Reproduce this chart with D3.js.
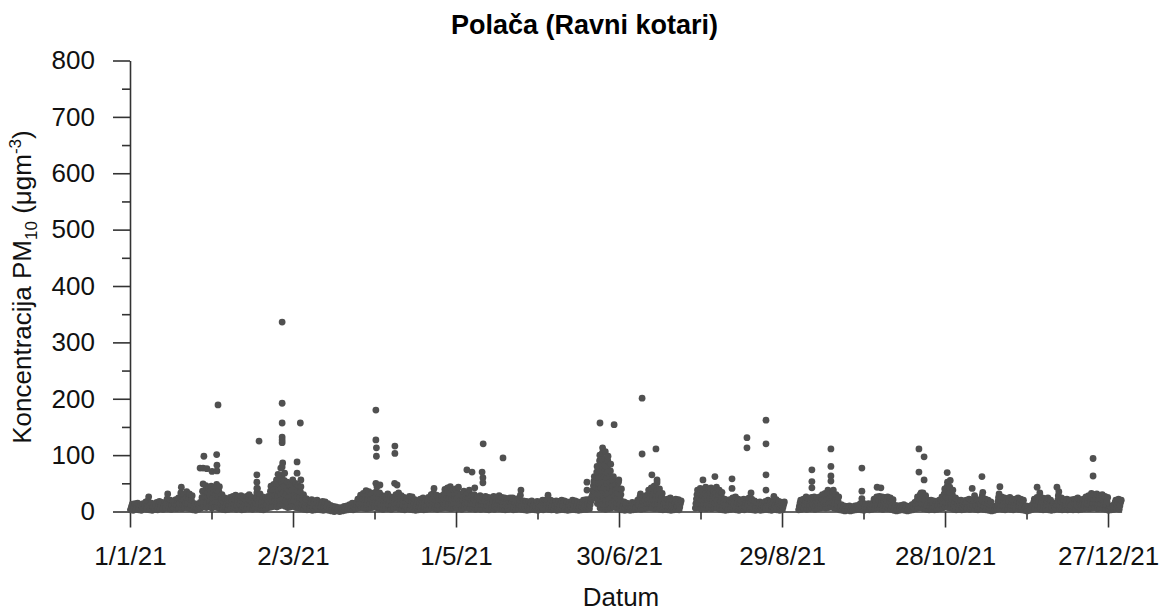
<!DOCTYPE html>
<html><head><meta charset="utf-8">
<script src="https://cdn.jsdelivr.net/npm/d3@7"></script>
<style>body{margin:0;background:#fff}</style>
</head><body>
<svg id="c" width="1167" height="614"></svg>
<script>
const chartTitle = "Polača (Ravni kotari)";
const xTitle = "Datum";
const xTickLabels = ["1/1/21","2/3/21","1/5/21","30/6/21","29/8/21","28/10/21","27/12/21"];
const xMinorLabels = ["31/1/21","1/4/21","31/5/21","30/7/21","28/9/21","27/11/21"];
const xEndLabel = "1/1/22";
const yTicks = [0,100,200,300,400,500,600,700,800];
const yMinorTicks = [50,150,250,350,450,550,650,750];

// PM10 values per day (several readings per day), month by month
const jan = [[3,8,13],[2,9,14],[4,10,15],[3,7,12],[2,8,14],[5,11,17],[4,12,19,26],[3,9,15],[2,8,13],[4,10,16],[3,9,18],[5,11,16],[4,10,15],[6,14,22,31],[5,12,20],[4,11,18],[6,13,21],[5,12,19,24],[6,15,24,33,43],[5,13,22,30],[7,15,24,35],[6,14,23,31],[5,12,20,28],[3,8,14],[2,7,12],[4,10,16],[6,15,25,36,49],[8,17,27,38,46],[7,16,26,35,42],[9,18,28,37,45],[6,15,24,33,40]];
const feb = [[8,17,27,38,48],[7,16,26,36,44],[5,13,22,30],[4,10,17,24],[3,9,15,22],[4,11,18,25],[5,12,20,27],[6,13,21,29],[4,11,19,26],[5,13,21,28],[3,10,17,24],[4,12,20,27],[6,14,22,30],[5,12,19,25],[4,11,18],[6,15,24,33,41],[5,14,23,31],[4,11,19,26],[3,10,17,24],[5,12,20,27],[7,16,26,36,45],[8,18,28,38,48],[9,19,29,39,50,56],[8,18,28,38,48,58],[10,20,30,40,52,64],[12,22,33,44,55,68],[9,19,30,41,52],[7,16,26,36,46]];
const mar = [[8,18,28,38,48,56],[9,19,29,40,50],[7,17,27,37,46],[6,15,25,35,44],[5,13,21,30],[4,10,17,23],[3,9,15,20],[4,10,16,21],[2,8,14,19],[3,9,15,20],[4,10,16],[3,8,14,18],[2,7,13,17],[3,8,14],[2,6,11],[1,5,9],[0,4,8],[1,4,7],[0,3,7],[1,5,9],[2,6,10],[3,7,12],[4,9,15],[3,8,14],[5,11,17,22],[6,13,21,29],[7,15,23,32],[6,14,22,30,37],[5,13,21,29,35],[6,14,22,31],[7,15,24,33]];
const apr = [[8,17,26,35,44],[6,15,24,33],[5,13,21,28],[4,12,20,27],[6,14,22,31],[5,12,20,26],[4,11,18,24],[6,14,22,30],[7,15,24,33],[5,13,21,28],[4,11,18,25],[3,10,17,23],[5,12,20,27],[4,11,19,26],[3,9,15,21],[2,8,14,19],[3,9,15,22],[4,10,17,24],[3,8,14,20],[4,11,18,25],[5,13,21,30],[6,14,23,32,41],[5,13,21,29],[4,11,19,27],[5,12,20,28],[6,14,22,31,39],[7,15,24,33,42],[6,14,23,32,44],[5,13,22,30,38],[6,14,22,31,40]];
const may = [[7,15,24,33,43],[5,13,21,30],[4,12,20,28,36],[6,14,22,30],[7,15,24,32,38],[5,13,21,28],[6,14,22,30,42],[4,12,19,26],[5,13,20,28],[4,11,18,25],[5,12,19,27],[4,11,18,25],[3,10,17,24],[5,12,19,27],[4,11,18,24],[6,13,20,28],[5,12,19,25],[4,11,18,24],[3,10,17,23],[4,11,18,24],[5,12,19,24],[3,9,16,22],[4,10,17,23],[5,12,20,29,38],[4,10,16,19],[3,9,14,18],[2,8,13,17],[3,9,15,19],[4,10,15],[3,8,14,18],[2,7,13,17]];
const jun = [[4,10,16,20],[3,9,15,20],[5,12,20,29],[4,10,16,20],[3,9,14,18],[4,10,15,19],[2,8,14,18],[3,9,15,20],[4,10,16,19],[3,8,13,17],[2,7,12,16],[3,9,15,20],[4,10,16,19],[3,8,13,17],[2,7,12,16],[3,9,15,20],[4,10,16,21],[4,10,16,21],[5,12,18,25],[22,30,38,46,54,62],[25,34,43,52,61,70,80],[14,22,31,40,50,60,70,80,90,100],[6,14,22,32,42,52,62,72,82,92,104,113],[5,13,22,32,42,52,62,72,82,94,106],[4,12,20,30,40,50,60,70,80,90,98],[5,13,22,32,42,52,62,72,84],[6,15,25,35,45,55,62],[8,18,28,38,48],[6,15,24,33,42,52,56],[5,13,21,30,40]];
const jul = [[3,8,13,17],[2,7,12,15],[3,8,13],[2,7,12,16],[3,9,14],[4,10,16,20],[5,12,19,26,31],[4,11,18,25],[5,12,20,28],[6,14,22,30,38],[7,15,24,33,42],[6,14,22,30,40,45],[5,13,21,29,37],[6,14,22,30,40],[4,11,18,25,32],[3,9,15,21],[4,10,16,22],[3,9,15,21,24],[2,8,14,20],[3,9,15,22],[4,10,16,21],[3,8,14,19],[],[],[],[],[],[6,14,22,30,38],[7,15,24,33,41],[5,13,21,29,36],[6,14,22,31,43]];
const aug = [[5,13,21,30,40],[6,14,23,32,42],[5,12,20,28,36],[7,15,24,33,43],[6,14,22,30,38],[4,11,18,26,34],[3,9,15,22],[2,8,14,20],[3,9,15,21],[4,10,17,24],[5,12,19,26],[3,9,15,22],[2,8,14,20],[4,10,16,22],[3,9,15,21],[5,12,19,24],[4,10,16,22],[3,9,14,19],[2,7,12,16],[3,8,13,17],[2,7,12,15],[3,8,14,18],[4,10,16,20],[3,9,14,18],[2,8,13,17],[4,10,16,21],[3,9,14,18],[2,7,12,16],[3,8,13,17],[],[]];
const sep = [[],[],[],[3,9,15,20],[4,10,16,22],[5,12,19,26],[4,11,17,23],[5,12,19,25],[6,13,20,26],[4,11,18,24],[5,12,19,26],[6,14,22,30],[7,15,23,32],[6,14,22,31,38],[7,15,24,33],[8,16,25,34,38],[6,14,22,30],[5,12,19,26],[3,8,12],[2,6,10],[1,5,9],[2,6,10],[1,4,8],[2,6,10],[3,7,11],[4,9,14],[3,9,15],[2,8,13],[4,9,14],[3,8,13]];
const oct = [[4,10,16,22],[5,12,19,26],[6,13,20,27],[5,12,19,26],[4,11,18,25],[6,13,20,26],[5,12,18,24],[4,10,16,21],[2,7,11],[1,5,10],[2,6,11],[3,7,12],[2,6,10],[1,5,9],[2,7,12],[3,8,13,16],[5,12,19,26],[6,14,22,30],[7,15,24,33],[5,13,21,28],[4,10,16,20],[3,9,15,20],[4,10,16,19],[3,9,14,18],[4,10,16,20],[5,12,19,26],[6,14,22,31,40],[8,17,26,35,44,52],[7,16,25,34,43,55],[6,14,22,30,38],[4,11,18,24]];
const nov = [[3,9,15,20],[4,10,16,20],[3,8,14,19],[4,10,15,20],[5,11,17,22],[4,10,16,20],[5,12,20,28],[4,10,16,21],[3,9,15,20],[5,12,20,28,34],[4,10,16,22],[3,9,15,20],[2,7,12,17],[1,5,9],[2,6,10],[4,11,18,25,31],[5,12,19,26],[4,11,18,24],[3,10,17,23],[5,12,19,25],[4,11,17,22],[3,10,16,22],[5,12,18,24],[4,10,16,22],[3,9,15,20],[2,6,10],[1,5,9],[2,6,11],[4,10,16,22],[5,12,19,25]];
const dec = [[5,12,19,26,33],[4,11,18,24],[3,10,17,23],[4,11,18,24],[3,9,15,20],[2,7,12,15],[3,8,13],[5,12,20,28,35],[4,11,18,24],[3,9,15,21],[4,10,16,22],[3,9,15,20],[4,10,16,21],[3,9,15,22],[4,11,18,24],[3,9,15,20],[4,10,16,22],[5,12,19,26],[6,13,20,28],[5,12,19,27,32],[6,14,22,30],[7,15,23,31],[5,13,21,28],[6,14,22,30],[5,12,20,27],[4,11,18,25],[2,6,10],[3,7,11],[4,10,16,20],[5,11,17,22],[4,10,16,20]];

// Isolated high readings: day of year (fractional) and value
const peakDay = [25.8,26.9,28.3,27.2,30.2,32.0,32.0,31.9,32.4,46.7,46.7,46.7,47.5,54.5,55.5,56.2,56.0,56.0,56.0,56.0,56.0,56.0,56.0,61.5,61.5,62.7,62.9,90.5,90.5,90.7,90.7,90.5,92.0,97.5,97.5,97.4,98.3,124.0,125.9,129.6,129.9,129.9,130.0,137.3,168.2,168.2,173.0,178.2,188.5,188.5,192.1,193.6,194.0,194.0,210.9,215.3,221.6,221.6,227.1,227.1,228.6,234.1,234.1,234.1,234.1,237.0,251.0,251.0,251.0,258.0,258.0,258.0,258.0,269.4,269.4,269.4,275.0,276.4,290.4,290.4,291.2,292.3,292.3,300.8,310.0,313.6,320.2,333.9,341.2,354.5,354.5];
const peakValue = [77,77,76,98,71,72,82,101,189,65,52,41,125,66,77,86,79,122,127,132,157,192,336,88,68,157,56,180,127,113,98,50,47,116,103,50,47,74,70,70,60,51,120,95,52,38,157,154,201,102,65,111,56,51,56,62,58,41,131,113,33,162,120,65,38,27,74,53,42,111,80,63,54,77,36,23,43,42,111,70,33,97,56,69,41,62,44,43,43,94,63];

const svg = d3.select("#c");
const font = "'Liberation Sans', Arial, Helvetica, sans-serif";
const axisColor = "#333";
const dotColor = "#505050";
const parse = d3.timeParse("%d/%m/%y");
const t0 = parse(xTickLabels[0]);
const t1 = parse(xEndLabel);
const DAY = 864e5;

const x = d3.scaleTime().domain([t0, t1]).range([130, 1121.6]);
const y = d3.scaleLinear().domain([yTicks[0], yTicks[yTicks.length - 1]]).range([511.5, 60.5]);

const pts = [];
let dayIndex = 0;
[jan, feb, mar, apr, may, jun, jul, aug, sep, oct, nov, dec].forEach(month => {
  month.forEach(vals => {
    vals.forEach((v, i) => pts.push({ t: new Date(t0.getTime() + (dayIndex + (i + 0.5) / vals.length) * DAY), v }));
    dayIndex++;
  });
});
peakDay.forEach((pd, i) => pts.push({ t: new Date(t0.getTime() + pd * DAY), v: peakValue[i] }));

function styleAxis(g) {
  g.attr("font-family", font).attr("font-size", 26);
  g.selectAll("path, line").attr("stroke", axisColor).attr("stroke-width", 1.6);
  g.selectAll("text").attr("fill", "#111");
}

// X axis
svg.append("g").attr("transform", "translate(0,511.5)")
  .call(d3.axisBottom(x).tickValues(xTickLabels.map(parse)).tickFormat((d, i) => xTickLabels[i])
    .tickSize(16).tickSizeOuter(0).tickPadding(19))
  .call(styleAxis);
svg.append("g").attr("transform", "translate(0,511.5)")
  .call(d3.axisBottom(x).tickValues(xMinorLabels.map(parse)).tickFormat("").tickSize(8).tickSizeOuter(0))
  .call(g => g.select(".domain").remove())
  .call(styleAxis);

// Y axis
svg.append("g").attr("transform", "translate(130,0)")
  .call(d3.axisLeft(y).tickValues(yTicks).tickSize(17).tickSizeOuter(0).tickPadding(18))
  .call(styleAxis);
svg.append("g").attr("transform", "translate(130,0)")
  .call(d3.axisLeft(y).tickValues(yMinorTicks).tickFormat("").tickSize(8).tickSizeOuter(0))
  .call(g => g.select(".domain").remove())
  .call(styleAxis);

// Points
svg.append("g").selectAll("circle").data(pts).join("circle")
  .attr("cx", d => x(d.t)).attr("cy", d => y(d.v)).attr("r", 3.4).attr("fill", dotColor);

// Title
svg.append("text").attr("x", 584.5).attr("y", 34).attr("text-anchor", "middle")
  .attr("font-family", font).attr("font-size", 27).attr("font-weight", "bold").attr("fill", "#000")
  .text(chartTitle);

// X title
svg.append("text").attr("x", 621).attr("y", 606).attr("text-anchor", "middle")
  .attr("font-family", font).attr("font-size", 26).attr("fill", "#111").text(xTitle);

// Y title with subscript / superscript
const yl = svg.append("text").attr("transform", "translate(31,287) rotate(-90)").attr("text-anchor", "middle")
  .attr("font-family", font).attr("font-size", 26).attr("fill", "#111");
yl.append("tspan").text("Koncentracija PM");
yl.append("tspan").attr("font-size", 17).attr("dy", 6).text("10");
yl.append("tspan").attr("dy", -6).text(" (μgm");
yl.append("tspan").attr("font-size", 17).attr("dy", -10).text("-3");
yl.append("tspan").attr("dy", 10).text(")");
</script>
</body></html>
